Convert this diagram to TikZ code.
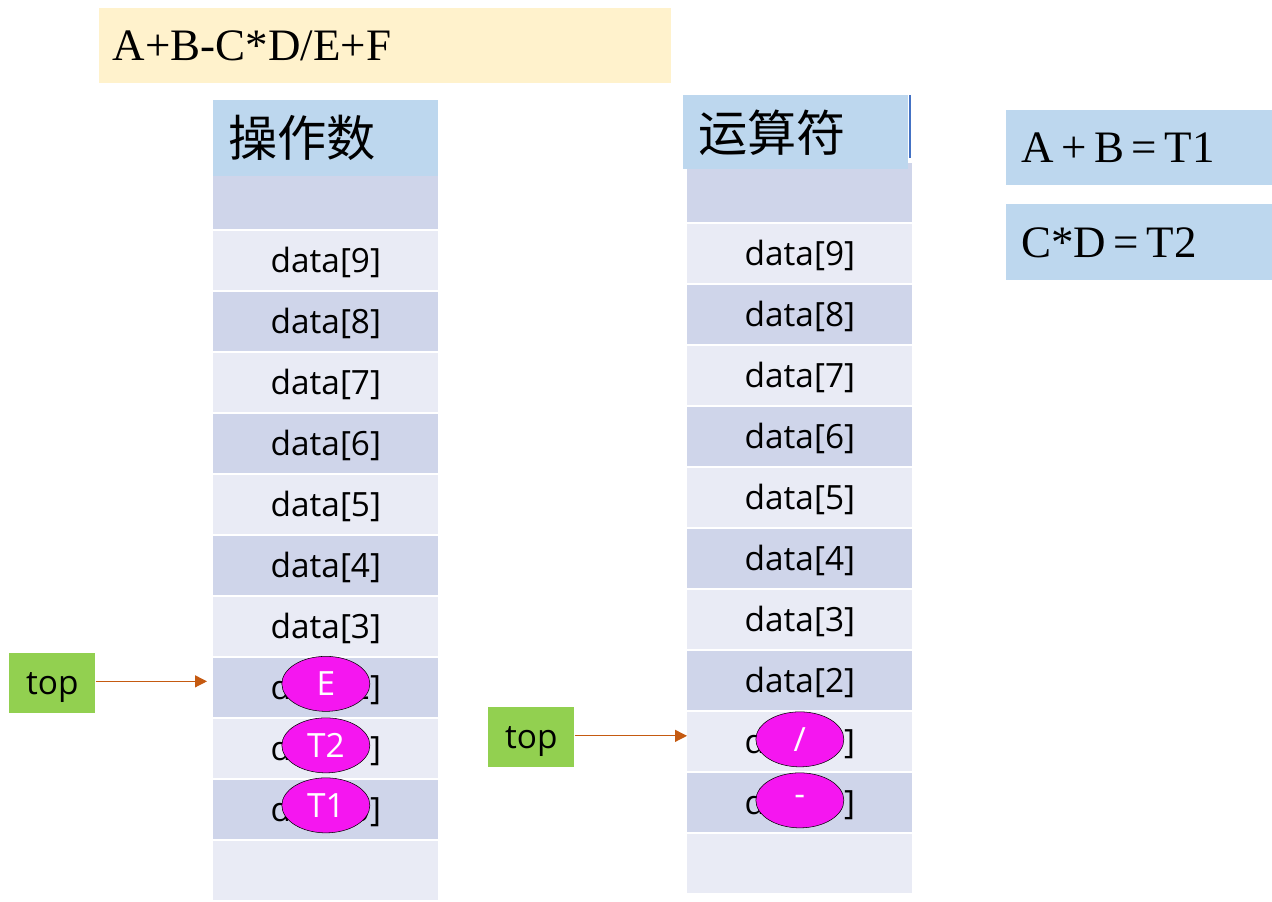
\documentclass[tikz,border=0pt]{standalone}
\usepackage{fontspec}
\setmainfont{Liberation Serif}
\setsansfont{Open Sans}
\newfontfamily\cjk{Noto Sans CJK SC}
\usetikzlibrary{shapes.geometric,arrows.meta}

\definecolor{rowdark}{HTML}{CFD5EA}
\definecolor{rowlight}{HTML}{E9EBF5}
\definecolor{headblue}{HTML}{BDD7EE}
\definecolor{exprbg}{HTML}{FFF2CC}
\definecolor{topgreen}{HTML}{92D050}
\definecolor{arrowbrown}{HTML}{C55A11}
\definecolor{elemfill}{HTML}{F516F0}
\definecolor{edgeblue}{HTML}{4472C4}

\begin{document}
\begin{tikzpicture}[x=0.2mm,y=-0.2mm,
		cell/.style={anchor=north west, minimum width=45mm, minimum height=11.8mm, inner sep=0pt,
			text height=16pt, text depth=3pt, font=\sffamily\fontsize{19}{22}\selectfont},
		head/.style={anchor=north west, fill=headblue, text width=39mm, inner xsep=3mm, inner ysep=0pt,
			align=left, font=\cjk\fontsize{28}{32}\selectfont},
		serifbox/.style={anchor=north west, inner ysep=0pt, align=left,
			font=\fontsize{25.6}{30}\selectfont},
		topbox/.style={anchor=north west, fill=topgreen, minimum width=17.2mm, minimum height=12mm,
			inner sep=0pt, text height=16pt, text depth=3pt, font=\sffamily\fontsize{19}{22}\selectfont},
		elem/.style={ellipse, draw=black, line width=0.3pt, fill=elemfill, minimum width=17.6mm,
			minimum height=11mm, inner sep=0pt, text=white, font=\sffamily\fontsize{19}{22}\selectfont},
		ptr/.style={arrowbrown, line width=0.25mm, -{Triangle[length=2.4mm,width=2.4mm]}}]
		\useasboundingbox (0,0) rectangle (1272,902);
		% expression
		\node[serifbox, fill=exprbg, text width=109mm, inner xsep=2.7mm, minimum height=15mm] (expr) at (99,8) {A+B-C*D/E+F};
		% the two stacks
		\foreach \i in {0,...,11}{
			\pgfmathtruncatemacro\k{10-\i}
			\ifodd\i \def\rowcol{rowlight}\else \def\rowcol{rowdark}\fi
			\ifnum\i=0 \def\txt{}\else \ifnum\i=11 \def\txt{}\else \def\txt{data[\k]}\fi\fi
			\node[cell, fill=\rowcol] (lrow\i) at (213,{170+61*\i}) {\txt};
			\node[cell, fill=\rowcol] (rrow\i) at (687,{163+61*\i}) {\txt};
		}
		\node[head, minimum height=15.2mm] (lhead) at (213,100) {操作数};
		\node[head, minimum height=14.8mm] (rhead) at (683,95) {运算符};
		\draw[edgeblue, line width=0.4mm] (910,95) -- (910,158);
		% results
		\node[serifbox, fill=headblue, text width=47.2mm, inner xsep=3mm, minimum height=15mm] (res1) at (1006,110) {A\,+\,B\,=\,T1};
		\node[serifbox, fill=headblue, text width=47.2mm, inner xsep=3mm, minimum height=15.2mm] (res2) at (1006,204) {C*D\,=\,T2};
		% stack contents
		\node[elem] (e1) at ([yshift=0.8mm]lrow8) {E};
		\node[elem] (e2) at ([yshift=0.7mm]lrow9) {T2};
		\node[elem] (e3) at ([yshift=0.9mm]lrow10) {T1};
		\node[elem] (o1) at ([yshift=0.5mm]rrow9) {/};
		\node[elem] (o2) at ([yshift=0.5mm]rrow10) {-};
		% top pointers
		\node[topbox] (topL) at (9,653) {top};
		\node[topbox] (topR) at (488,707) {top};
		\draw[ptr, shorten >=1.2mm] ([yshift=0.4mm]topL.east) -- ([yshift=0.4mm]topL.east -| lrow8.west);
		\draw[ptr] ([yshift=0.3mm]topR.east) -- ([yshift=0.3mm]topR.east -| rrow9.west);
	\end{tikzpicture}
\end{document}
